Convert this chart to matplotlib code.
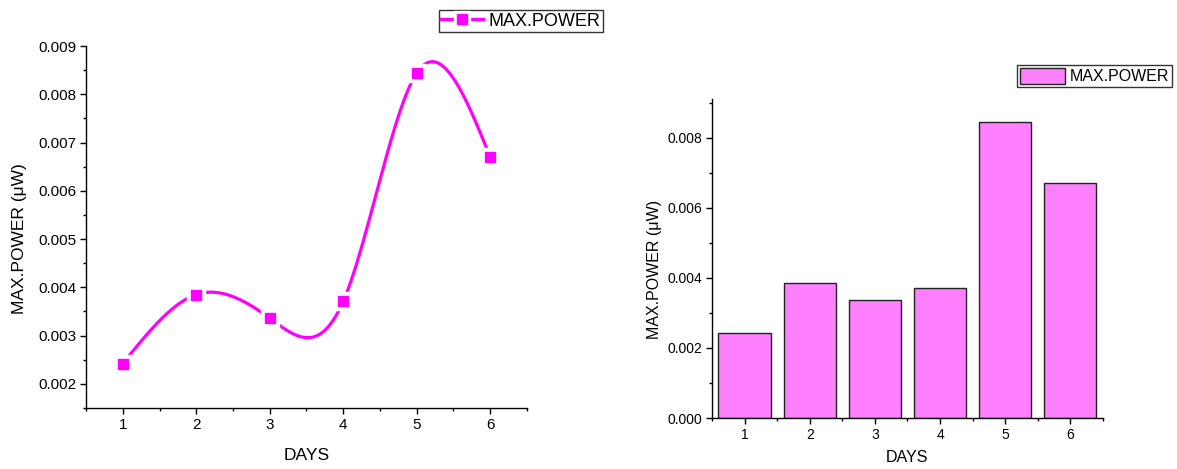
import numpy as np
import matplotlib
matplotlib.use("Agg")
import matplotlib.pyplot as plt
from matplotlib.lines import Line2D
from matplotlib.patches import Patch
from matplotlib.legend_handler import HandlerTuple
from matplotlib.ticker import MultipleLocator

plt.rcParams['font.family'] = ['Liberation Sans', 'DejaVu Sans']

days = [1, 2, 3, 4, 5, 6]
max_power = [0.00242, 0.00385, 0.00336, 0.00371, 0.00844, 0.00670]
series_label = 'MAX.POWER'
xlabel = 'DAYS'
ylabel = 'MAX.POWER (\u03bcW)'

line_col = '#FF00FF'
bar_col = '#FF80FF'


def natural_spline(x, y, xs):
    # natural cubic spline, like Origin's spline connect
    x = np.asarray(x, float)
    y = np.asarray(y, float)
    n = len(x)
    h = np.diff(x)
    A = np.zeros((n, n))
    b = np.zeros(n)
    A[0, 0] = 1
    A[-1, -1] = 1
    for i in range(1, n - 1):
        A[i, i - 1] = h[i - 1]
        A[i, i] = 2 * (h[i - 1] + h[i])
        A[i, i + 1] = h[i]
        b[i] = 6 * ((y[i + 1] - y[i]) / h[i] - (y[i] - y[i - 1]) / h[i - 1])
    M = np.linalg.solve(A, b)
    out = np.empty_like(xs)
    for k, t in enumerate(xs):
        i = min(np.searchsorted(x, t) - 1, n - 2)
        i = max(i, 0)
        a = x[i + 1] - t
        c = t - x[i]
        out[k] = (M[i] * a**3 / (6 * h[i]) + M[i + 1] * c**3 / (6 * h[i])
                  + (y[i] / h[i] - M[i] * h[i] / 6) * a
                  + (y[i + 1] / h[i] - M[i + 1] * h[i] / 6) * c)
    return out


fig = plt.figure(figsize=(11.77, 4.69), dpi=100)

# ---- left: spline line chart
ax1 = fig.add_axes([0.0731, 0.1301, 0.3746, 0.7718])
xs = np.linspace(days[0], days[-1], 400)
ys = natural_spline(days, max_power, xs)
ax1.plot(xs, ys, color=line_col, lw=2.3, zorder=2)
ax1.plot(days, max_power, ls='none', marker='s', ms=13, color='white', zorder=3)
ax1.plot(days, max_power, ls='none', marker='s', ms=6.5, color=line_col, zorder=4)
ax1.set_xlim(0.5, 6.5)
ax1.set_ylim(0.0015, 0.009)
ax1.set_xticks(days)
ax1.set_yticks([0.002, 0.003, 0.004, 0.005, 0.006, 0.007, 0.008, 0.009])
ax1.yaxis.set_major_formatter(matplotlib.ticker.FormatStrFormatter('%.3f'))
ax1.xaxis.set_minor_locator(matplotlib.ticker.FixedLocator([0.5, 1.5, 2.5, 3.5, 4.5, 5.5, 6.5]))
ax1.yaxis.set_minor_locator(MultipleLocator(0.0005))
ax1.tick_params(which='major', direction='out', length=4, width=1, labelsize=11, pad=3)
ax1.tick_params(which='minor', direction='out', length=2.5, width=1)
ax1.set_xlabel(xlabel, fontsize=12.5)
ax1.set_ylabel(ylabel, fontsize=12.5)
ax1.xaxis.label.set_va('center')
ax1.yaxis.label.set_va('center')
ax1.xaxis.set_label_coords(0.5, -0.130)
ax1.yaxis.set_label_coords(-0.150, 0.467)

# ---- right: bar chart
ax2 = fig.add_axes([0.6049, 0.1087, 0.3322, 0.6802])
ax2.bar(days, max_power, width=0.8, color=bar_col, edgecolor='#222222', lw=1, zorder=2)
ax2.set_xlim(0.5, 6.5)
ax2.set_ylim(0, 0.0091)
ax2.set_xticks(days)
ax2.set_yticks([0.000, 0.002, 0.004, 0.006, 0.008])
ax2.yaxis.set_major_formatter(matplotlib.ticker.FormatStrFormatter('%.3f'))
ax2.xaxis.set_minor_locator(matplotlib.ticker.FixedLocator([0.5, 1.5, 2.5, 3.5, 4.5, 5.5, 6.5]))
ax2.yaxis.set_minor_locator(MultipleLocator(0.001))
ax2.tick_params(which='major', direction='out', length=4, width=1, labelsize=10, pad=3)
ax2.tick_params(which='minor', direction='out', length=2.5, width=1)
ax2.set_xlabel(xlabel, fontsize=11.5)
ax2.set_ylabel(ylabel, fontsize=11.5)
ax2.xaxis.label.set_va('center')
ax2.yaxis.label.set_va('center')
ax2.xaxis.set_label_coords(0.5, -0.125)
ax2.yaxis.set_label_coords(-0.148, 0.467)

for ax in (ax1, ax2):
    ax.spines['top'].set_visible(False)
    ax.spines['right'].set_visible(False)
    for s in ('left', 'bottom'):
        ax.spines[s].set_linewidth(1.0)

# legends
h_line = Line2D([], [], color=line_col, lw=2.5)
h_gap = Line2D([], [], ls='none', marker='s', ms=11, color='white')
h_mark = Line2D([], [], ls='none', marker='s', ms=6.5, color=line_col)
leg1 = fig.legend([(h_line, h_gap, h_mark)], [series_label],
                  handler_map={tuple: HandlerTuple(ndivide=1)},
                  loc='upper right', bbox_to_anchor=(0.5123, 0.9787),
                  fontsize=13, frameon=True, fancybox=False, borderaxespad=0,
                  borderpad=0.15, handlelength=2.3, handletextpad=0.3, numpoints=1)
leg1.get_frame().set_edgecolor('black')
leg1.get_frame().set_linewidth(1)

h_bar = Patch(facecolor=bar_col, edgecolor='#222222', lw=1)
leg2 = fig.legend([h_bar], [series_label], loc='upper right',
                  bbox_to_anchor=(0.9958, 0.8614), fontsize=11.5,
                  frameon=True, fancybox=False, borderaxespad=0,
                  borderpad=0.2, handlelength=2.8, handleheight=1.1,
                  handletextpad=0.3)
leg2.get_frame().set_edgecolor('black')
leg2.get_frame().set_linewidth(1)

fig.savefig('out.png', dpi=100, facecolor='white')
